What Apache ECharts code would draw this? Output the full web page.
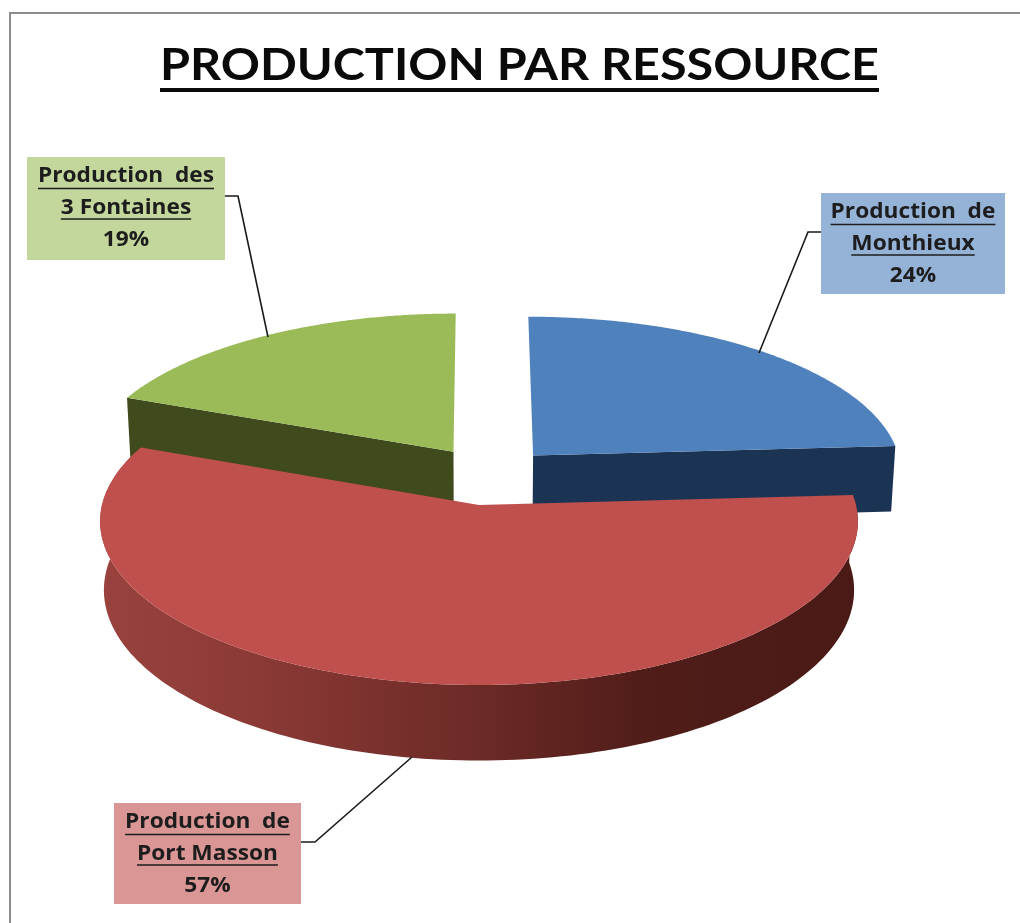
<!DOCTYPE html>
<html><head><meta charset="utf-8">
<style>html,body{margin:0;padding:0;background:#fff}#c{width:1020px;height:923px}</style>
<script src="https://cdn.jsdelivr.net/npm/echarts@6/dist/echarts.min.js"></script>
</head><body><div id="c"></div>
<script>
// ---- data ----
var titleText = 'PRODUCTION PAR RESSOURCE';
var categories = ['Production  de\nMonthieux', 'Production  de\nPort Masson', 'Production  des\n3 Fontaines'];
var values = [24, 57, 19];

// ---- styles ----
var topColors = ['#4f81bd', '#c0504d', '#9bbb59'];
var wallColors = ['#1c3454', null, '#3f4a1d'];
var boxColors = ['#95b3d7', '#d99694', '#c3d69b'];
var redWallStops = [
  {offset: 0, color: '#99423e'}, {offset: 0.2, color: '#8c3a36'}, {offset: 0.5, color: '#6c2a26'},
  {offset: 0.72, color: '#501d19'}, {offset: 1, color: '#4a1a16'}
];
// ---- layout ----
var cam = {cx: 479, cy: 505, rx: 377, ry: 162, persp: 0.1, depth: 68, shrink: 0.01};
var explode = [[0.148, -0.315], [0, 0], [-0.07, -0.34]];
var walls = ['end', 'rim', 'start'];
var order = [1, 2, 0]; // painting rank: green, blue, red
var boxes = [
  {x: 821, y: 193, w: 184, h: 101, leader: [[821, 232], [808, 232], [759, 353]]},
  {x: 114, y: 803, w: 187, h: 101, leader: [[301, 842], [315, 842], [412, 757]]},
  {x: 27, y: 157, w: 198, h: 103, leader: [[225, 196], [238, 196], [268, 337]]}
];
var lineOffsets = [19, 51, 83];
var underlineOffsets = [31.5, 62];
var labelFont = 'bold 21px "Open Sans"';
var labelStretch = 1.08;
var titleFont = 'bold 43px Lato';
var titleSpan = 719;
var ctx = document.createElement('canvas').getContext('2d');

function project(u, v, z) {
  var w = 1 / (1 - cam.persp * v);
  var s = 1 - cam.shrink * z;
  return [cam.cx + cam.rx * u * w * s, cam.cy + cam.ry * v * w + cam.depth * z * w];
}
function rimPoint(off, a, z) {
  return project(off[0] + Math.sin(a), off[1] - Math.cos(a), z);
}
var total = values.reduce(function (a, b) { return a + b; }, 0);
function sliceAngles(i) {
  var before = 0;
  for (var k = 0; k < i; k++) before += values[k];
  return [before / total * 2 * Math.PI, (before + values[i]) / total * 2 * Math.PI];
}
function stretchedText(t, x, y, z2) {
  return {type: 'text', z2: z2, x: x, y: y, scaleX: labelStretch,
    style: {x: 0, y: 0, text: t, align: 'center', verticalAlign: 'middle', font: labelFont, fill: '#1d1d1d'}};
}

function renderSlice(params, api) {
  var i = params.dataIndex;
  var ang = sliceAngles(i), off = explode[i], n = 160, pts = [], wall = [], rank = order[i] * 2 + 1;
  var rimTop = [], rimBot = [];
  for (var k = 0; k <= n; k++) {
    var a = ang[0] + (ang[1] - ang[0]) * k / n;
    rimTop.push(rimPoint(off, a, 0));
    rimBot.push(rimPoint(off, a, 1));
  }
  var apex = project(off[0], off[1], 0), apexB = project(off[0], off[1], 1);
  pts = [apex].concat(rimTop);
  if (walls[i] === 'rim') wall = rimTop.concat(rimBot.slice().reverse());
  else if (walls[i] === 'end') wall = [apex, rimTop[n], rimBot[n], apexB];
  else wall = [apex, rimTop[0], rimBot[0], apexB];
  var wallFill = wallColors[i] || {type: 'linear', global: true, x: 100, y: 0, x2: 858, y2: 0, colorStops: redWallStops};
  var children = [
    {type: 'polygon', z2: rank, shape: {points: wall}, style: {fill: wallFill}},
    {type: 'polygon', z2: rank + 1, shape: {points: pts}, style: {fill: topColors[i]}}
  ];
  var b = boxes[i];
  children.push({type: 'polyline', z2: 10, shape: {points: b.leader}, style: {fill: null, stroke: '#1a1a1a', lineWidth: 1.6}});
  children.push({type: 'rect', z2: 11, shape: {x: b.x, y: b.y, width: b.w, height: b.h}, style: {fill: boxColors[i]}});
  var lines = categories[i].split('\n');
  var mid = b.x + b.w / 2;
  ctx.font = labelFont;
  lines.forEach(function (t, li) {
    children.push(stretchedText(t, mid, b.y + lineOffsets[li], 12));
    var tw = ctx.measureText(t).width * labelStretch;
    var uy = b.y + underlineOffsets[li];
    children.push({type: 'line', z2: 12, shape: {x1: mid - tw / 2, y1: uy, x2: mid + tw / 2, y2: uy}, style: {stroke: '#1d1d1d', lineWidth: 1.6}});
  });
  children.push(stretchedText(Math.round(values[i] / total * 100) + '%', mid, b.y + lineOffsets[2], 12));
  return {type: 'group', children: children};
}

ctx.font = titleFont;
var titleW = ctx.measureText(titleText).width;
var chart = echarts.init(document.getElementById('c'), null, {renderer: 'canvas'});
chart.setOption({
  backgroundColor: '#ffffff',
  animation: false,
  graphic: [
    {type: 'polyline', shape: {points: [[10, 930], [10, 13], [1030, 13]]}, style: {fill: null, stroke: '#8c8c8c', lineWidth: 2}},
    {type: 'text', x: 519.5, y: 66, scaleX: titleSpan / titleW, style: {x: 0, y: 0, text: titleText, align: 'center', verticalAlign: 'middle', font: titleFont, fill: '#0a0a0a'}},
    {type: 'line', shape: {x1: 519.5 - titleSpan / 2, y1: 90, x2: 519.5 + titleSpan / 2, y2: 90}, style: {stroke: '#0a0a0a', lineWidth: 4}}
  ],
  series: [{
    type: 'custom',
    coordinateSystem: 'none',
    renderItem: renderSlice,
    data: values.map(function (v, i) { return [i, v]; }),
    silent: true
  }]
});
</script></body></html>
